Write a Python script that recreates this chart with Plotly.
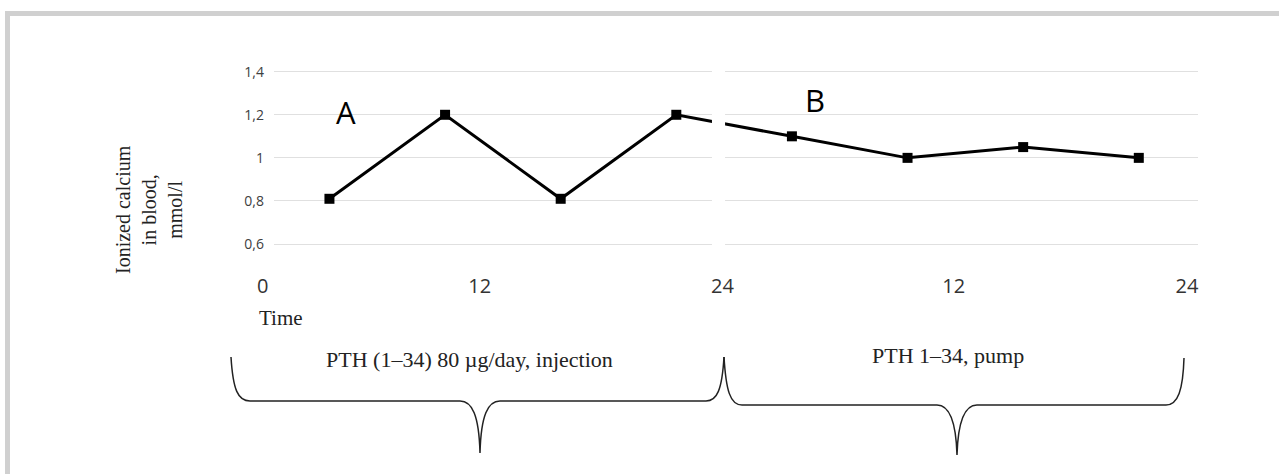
import plotly.graph_objects as go

# ---- data ----
hours = [3.5, 9.5, 15.5, 21.5, 27.5, 33.5, 39.5, 45.5]
calcium = [0.81, 1.20, 0.81, 1.20, 1.10, 1.00, 1.05, 1.00]
x_tick_labels = ["0", "12", "24", "12", "24"]
x_tick_pos = [0, 11.3, 23.9, 35.9, 48.0]
y_ticks = [0.6, 0.8, 1.0, 1.2, 1.4]
panel_labels = ["A", "B"]
regimen_labels = ["PTH (1\u201334) 80 \u00b5g/day, injection", "PTH 1\u201334, pump"]

W, H = 1279, 474
L, R, T, B = 274, 81, 62, 202
PW, PH = W - L - R, H - T - B


def px(x, y):
    return (x - L) / PW, (H - B - y) / PH


def path(points):
    out = []
    for cmd, pts in points:
        s = cmd
        for (x, y) in pts:
            a, b = px(x, y)
            s += f" {a:.5f},{b:.5f}"
        out.append(s)
    return " ".join(out)


fig = go.Figure()
fig.add_trace(go.Scatter(
    x=hours, y=calcium, mode="lines+markers",
    line=dict(color="black", width=3),
    marker=dict(symbol="square", size=10, color="black"),
    hoverinfo="skip", showlegend=False,
))

serif = "Liberation Serif, Times New Roman, serif"
sans = "Open Sans, Arial, sans-serif"

shapes = []
# gap between the two charts
shapes.append(dict(type="rect", xref="x", yref="paper", x0=23.35, x1=24.03, y0=0, y1=1.02,
                   fillcolor="white", line=dict(width=0), layer="above"))
# frame bands
x0, y0 = px(5, 11)
x1, y1 = px(W + 5, 16)
shapes.append(dict(type="rect", xref="paper", yref="paper", x0=x0, y0=y0, x1=x1, y1=y1,
                   fillcolor="#d0d0d0", line=dict(width=0)))
x0, y0 = px(5, 11)
x1, y1 = px(10, H + 5)
shapes.append(dict(type="rect", xref="paper", yref="paper", x0=x0, y0=y0, x1=x1, y1=y1,
                   fillcolor="#d0d0d0", line=dict(width=0)))
# braces
brace1 = path([
    ("M", [(231, 357)]),
    ("C", [(233, 390), (238, 401), (250, 401)]),
    ("L", [(460, 401)]),
    ("C", [(472, 401), (479, 415), (480, 453)]),
    ("C", [(481, 415), (488, 401), (500, 401)]),
    ("L", [(706, 401)]),
    ("C", [(717, 401), (722, 390), (724, 357)]),
])
brace2 = path([
    ("M", [(724, 357)]),
    ("C", [(726, 390), (730, 405), (742, 405)]),
    ("L", [(937, 405)]),
    ("C", [(949, 405), (956, 420), (957, 455)]),
    ("C", [(958, 420), (965, 405), (977, 405)]),
    ("L", [(1166, 405)]),
    ("C", [(1178, 405), (1183, 390), (1184, 358)]),
])
for p in (brace1, brace2):
    shapes.append(dict(type="path", xref="paper", yref="paper", path=p,
                       line=dict(color="#222222", width=1.5)))

annotations = []


def add_text(x, y, text, font, **kw):
    a, b = px(x, y)
    annotations.append(dict(x=a, y=b, xref="paper", yref="paper", text=text, showarrow=False,
                            xanchor="center", yanchor="middle", font=font, **kw))


add_text(346, 112, panel_labels[0], dict(family=sans, size=31, color="black"))
add_text(815, 100, panel_labels[1], dict(family=sans, size=31, color="black"))
add_text(262, 285, x_tick_labels[0], dict(family=sans, size=20, color="#333333"))
add_text(281, 318, "Time", dict(family=serif, size=21, color="#222"))
add_text(149, 210, "Ionized calcium<br>in blood,<br>mmol/l", dict(family=serif, size=20, color="#222"),
         textangle=-90)
add_text(469, 359, regimen_labels[0], dict(family=serif, size=22, color="#222"))
add_text(948, 355, regimen_labels[1], dict(family=serif, size=22, color="#222"))

ppu = 215.4
y_top = 1.4 + (71.7 - T) / ppu
y_bot = 1.4 - (H - B - 71.7) / ppu
hx = 19.27
x_left = (L - 262) / hx
x_right = (W - R - 262) / hx

fig.update_layout(
    width=W, height=H,
    margin=dict(l=L, r=R, t=T, b=B),
    paper_bgcolor="white", plot_bgcolor="white",
    separators=", ",
    shapes=shapes, annotations=annotations,
    xaxis=dict(range=[x_left, x_right], showgrid=False, zeroline=False, showline=False,
               tickvals=x_tick_pos[1:], ticktext=x_tick_labels[1:], ticks="",
               tickfont=dict(family=sans, size=20, color="#333333")),
    yaxis=dict(range=[y_bot, y_top], tickvals=y_ticks, showgrid=True, gridcolor="#e0e0e0", gridwidth=1,
               zeroline=False, showline=False, ticks="", ticklabelstandoff=9,
               tickfont=dict(family=sans, size=14, color="#404040")),
)

fig.write_html("out.html", config={"displayModeBar": False},
               post_script="document.body.style.margin='0';")
